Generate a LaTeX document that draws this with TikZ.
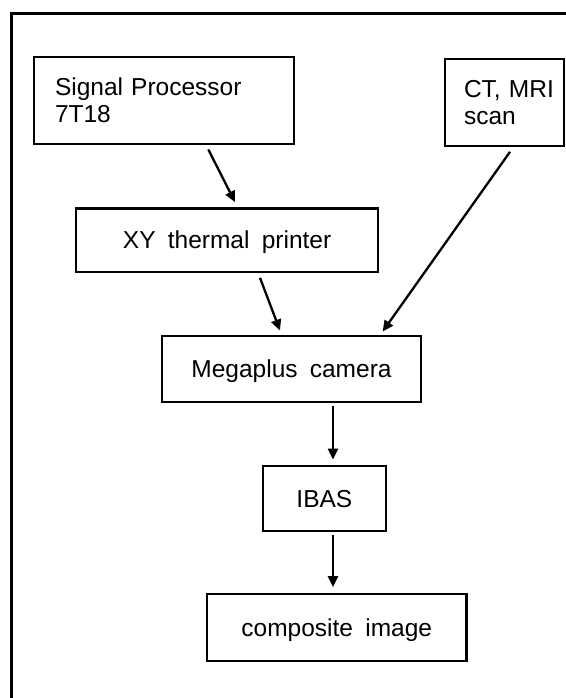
\documentclass[tikz,border=0pt]{standalone}
\usepackage{fontspec}
\setmainfont{Liberation Sans}[WordSpace=1.8]
\newfontfamily\ctfont{Liberation Sans}
\usetikzlibrary{arrows.meta,calc}
\begin{document}
\begin{tikzpicture}[x=1pt,y=-1pt,
  box/.style={draw,line width=2.3pt,inner ysep=0pt,font=\fontsize{24.5}{27.4}\selectfont},
  onebox/.style={box,inner xsep=0pt,text height=17.5pt,text depth=0pt},
  twobox/.style={box,align=left},
  arr/.style={-{Triangle[length=11pt,width=10pt]},line width=2.3pt},
  frame/.style={line width=2.3pt}]
\useasboundingbox (0,0) rectangle (565,698);
\coordinate (ftr) at (566,13.5);
\coordinate (ftl) at (11.5,13.5);
\coordinate (fbl) at (11.5,699);
\draw[frame] (ftr) -- (ftl) -- (fbl);

\node[twobox,inner xsep=20.7pt,text width=218.6pt,minimum height=87.3pt] (sig) at (164.3,100.35)
  {Signal Processor\\7T18};
\node[twobox,inner xsep=19pt,text width=81pt,minimum height=86.7pt] (ct) at (504.5,102.65)
  {\ctfont\mbox{CT, MRI}\\scan};
\node[onebox,minimum width=301.8pt,minimum height=63.2pt] (xy) at (227.1,240.1) {XY thermal printer};
\node[onebox,minimum width=259pt,minimum height=66pt] (mega) at (291.5,369) {Megaplus camera};
\node[onebox,minimum width=122.7pt,minimum height=65pt] (ibas) at (324.35,498.5) {IBAS};
\node[onebox,minimum width=259.5pt,minimum height=67pt] (comp) at (336.75,627.5) {composite image};

\draw[arr] ([xshift=44pt,yshift=-4.3pt]sig.south) -- ([xshift=7.9pt,yshift=5.2pt]xy.north);
\draw[arr] ([xshift=32.9pt,yshift=-5pt]xy.south) -- ([xshift=-11.5pt,yshift=4.3pt]mega.north);
\draw[arr] ([xshift=5.5pt,yshift=-4.7pt]ct.south) -- ([xshift=91.1pt,yshift=3.3pt]mega.north);
\draw[arr] ([xshift=41.5pt,yshift=-3pt]mega.south) -- ([xshift=8.65pt,yshift=5.3pt]ibas.north);
\draw[arr] ([xshift=8.65pt,yshift=-3pt]ibas.south) -- ([xshift=-3.75pt,yshift=5.7pt]comp.north);
\end{tikzpicture}
\end{document}
